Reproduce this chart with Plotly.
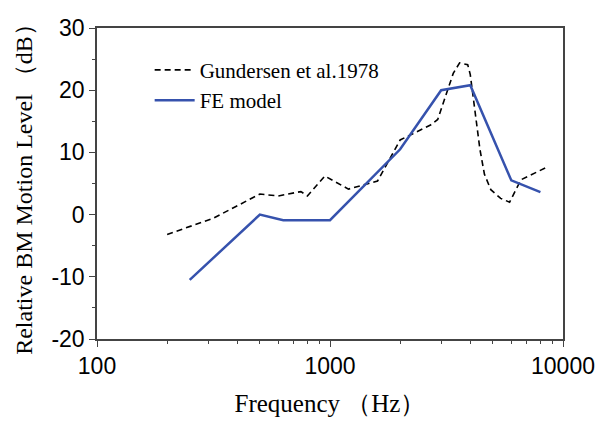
import plotly.graph_objects as go

# Gundersen et al. 1978 (dashed)
gund_freq = [200, 315, 500, 600, 750, 800, 950, 1200, 1600, 2000, 2700, 2900, 3380, 3600, 3900, 4000, 4400, 4600, 4900, 5400, 5900, 6600, 8500]
gund_level = [-3.2, -0.6, 3.3, 3.0, 3.7, 3.0, 6.2, 4.1, 5.4, 12.0, 14.4, 15.3, 22.7, 24.4, 24.1, 22.5, 10.5, 6.5, 4.0, 2.6, 2.0, 5.6, 7.6]

# FE model (solid blue)
fe_freq = [250, 500, 630, 1000, 2000, 3000, 4000, 6000, 8000]
fe_level = [-10.5, 0.0, -0.9, -0.9, 10.5, 20.0, 20.8, 5.5, 3.6]

y_ticks = [-20, -10, 0, 10, 20, 30]
y_tick_text = ["-20", "-10", "0", "10", "20", "30"]
x_ticks = [100, 1000, 10000]
x_tick_text = ["100", "1000", "10000"]
x_minor_ticks = [200, 300, 400, 500, 600, 700, 800, 900,
                 2000, 3000, 4000, 5000, 6000, 7000, 8000, 9000]

fig = go.Figure()
fig.add_trace(go.Scatter(
    x=gund_freq, y=gund_level, mode="lines", name="Gundersen et al.1978",
    line=dict(color="black", width=1.6, dash="6px,4px"),
))
fig.add_trace(go.Scatter(
    x=fe_freq, y=fe_level, mode="lines", name="FE model",
    line=dict(color="#3652ad", width=2.5),
))

axis_common = dict(
    showline=True, linecolor="#444", linewidth=1.5, mirror=True,
    ticks="outside", tickcolor="#444", ticklen=6, tickwidth=1.2,
    showgrid=False, zeroline=False,
    tickfont=dict(family="Liberation Sans, Arial", size=23, color="black"),
)

fig.update_xaxes(
    type="log", range=[2, 4], tickvals=x_ticks, ticktext=x_tick_text,
    minor=dict(ticks="outside", ticklen=3.5, tickcolor="#444", tickwidth=1,
               tickvals=x_minor_ticks),
    title=dict(text="Frequency （Hz）", font=dict(family="Liberation Serif, Times New Roman", size=25, color="black"), standoff=16),
    **axis_common,
)
fig.update_yaxes(
    range=[-20, 30], tickvals=y_ticks, ticktext=y_tick_text,
    minor=dict(ticks="outside", ticklen=3.5, tickcolor="#444", tickwidth=1, dtick=5, tick0=-20),
    title=dict(text="Relative BM Motion Level （dB）", font=dict(family="Liberation Serif, Times New Roman", size=24, color="black"), standoff=12),
    **axis_common,
)

fig.update_layout(
    width=614, height=425,
    margin=dict(l=97, r=51, t=28, b=84),
    paper_bgcolor="white", plot_bgcolor="white",
    legend=dict(x=0.113, y=0.93, xanchor="left", yanchor="top",
                bgcolor="rgba(0,0,0,0)",
                font=dict(family="Liberation Serif, Times New Roman", size=21, color="black"),
                tracegroupgap=0, itemwidth=40),
)

fig.write_html("out.html")
